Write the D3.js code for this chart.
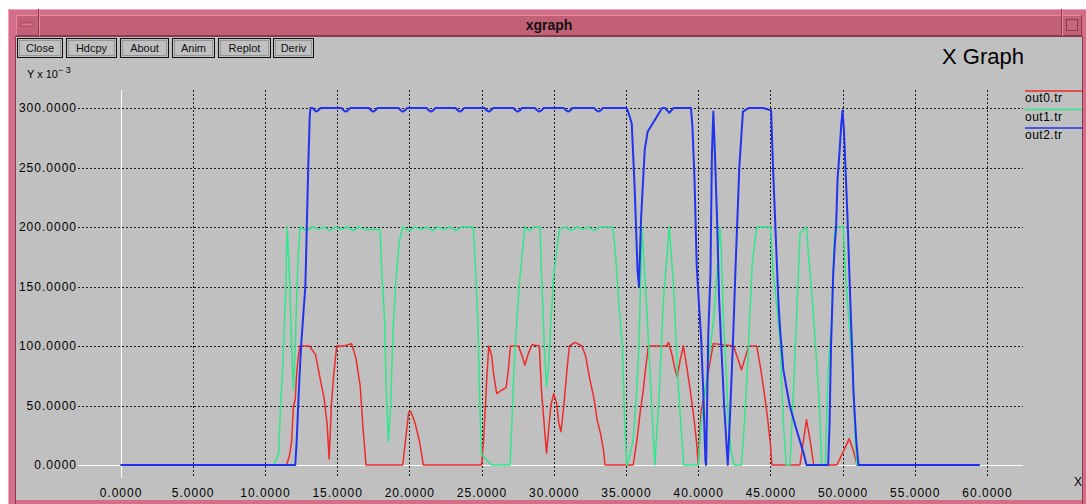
<!DOCTYPE html>
<html>
<head>
<meta charset="utf-8">
<script src="https://cdn.jsdelivr.net/npm/d3@7"></script>
<style>
  body { margin: 0; background: #ffffff; }
  svg { display: block; }
  text { font-family: "Liberation Sans", Arial, sans-serif; }
</style>
</head>
<body>
<div id="chart"></div>
<script>
// series values, [time, value x 10^-3]
const out0 = [[0,0],[11.5,0],[11.7,8],[11.85,20],[11.97,49],[12.1,55],[12.2,77],[12.3,90],[12.43,100],[13.07,100],
  [13.5,93],[13.8,74],[14.1,56],[14.3,35],[14.45,5],[14.6,50],[14.75,74],[14.97,100],[15.5,100],[16.0,102],
  [16.3,90],[16.6,66],[16.8,30],[17.0,0],[19.54,0],[19.7,17],[19.95,44],[20.1,45],[20.4,35],[20.7,20],[20.97,0],
  [25.0,0],[25.15,22],[25.35,70],[25.5,100],[25.7,92],[25.85,75],[26.05,60],[26.4,63],[26.7,65],[26.85,79],
  [27.0,100],[27.55,100],[27.8,92],[28.0,84],[28.25,94],[28.5,101],[29.0,100],[29.15,62],[29.3,40],[29.5,10],
  [29.65,30],[29.8,50],[30.0,60],[30.2,52],[30.35,35],[30.5,28],[30.7,50],[30.9,78],[31.08,100],[31.47,103],
  [31.94,100],[32.2,92],[32.5,72],[32.8,55],[33.0,38],[33.25,26],[33.45,12],[33.55,0],[35.5,0],[35.75,20],
  [36.0,46],[36.2,63],[36.35,80],[36.55,100],[37.8,100],[37.95,103],[38.2,92],[38.4,80],[38.56,74],[38.75,88],
  [38.98,100],[39.2,83],[39.45,63],[39.7,40],[39.9,18],[40.0,0],[40.2,45],[40.5,63],[40.7,78],[41.05,102],
  [42.45,100],[42.7,91],[43.0,80],[43.25,90],[43.5,100],[44.05,100],[44.3,83],[44.55,63],[44.8,40],[45.0,18],
  [45.1,0],[47.05,0],[47.3,21],[47.5,38],[47.75,21],[48.0,0],[49.6,0],[50.0,10],[50.45,22],[50.75,12],[51.0,0],[59.5,0]];

const out1 = [[0,0],[10.6,0],[10.95,10],[11.1,54],[11.25,85],[11.35,119],[11.45,150],[11.5,180],[11.55,200],
  [11.7,158],[11.85,100],[11.97,63],[12.1,100],[12.2,140],[12.3,175],[12.43,200],[12.9,197],[13.3,200],[13.7,198],
  [14.1,200],[14.5,197],[14.9,200],[15.3,198],[15.7,200],[16.1,197],[16.5,200],[16.9,198],[17.97,198],[18.1,160],
  [18.3,119],[18.4,63],[18.55,20],[18.7,50],[18.9,119],[19.1,160],[19.3,187],[19.54,200],[20.0,197],[20.4,200],
  [20.8,198],[21.2,200],[21.6,197],[22.0,200],[22.4,198],[22.8,200],[23.2,197],[23.6,200],[24.43,200],[24.6,160],
  [24.75,119],[24.85,63],[25.0,9],[25.3,5],[25.7,0],[26.97,0],[27.1,35],[27.25,82],[27.45,122],[27.6,150],
  [27.8,175],[28.0,200],[28.3,197],[28.6,200],[29.05,200],[29.15,160],[29.35,100],[29.5,66],[29.65,85],[29.8,119],
  [30.0,160],[30.2,180],[30.4,198],[30.8,200],[31.2,197],[31.6,200],[32.0,198],[32.4,200],[32.8,197],[33.2,200],
  [34.1,200],[34.3,173],[34.5,137],[34.75,100],[34.9,40],[35.05,0],[35.2,5],[35.5,21],[35.75,63],[35.9,100],
  [36.0,147],[36.1,200],[36.4,140],[36.7,70],[37.0,0],[37.3,60],[37.6,140],[38.0,200],[38.3,150],[38.6,70],
  [39.0,0],[40.0,0],[40.2,35],[40.5,63],[40.75,90],[41.05,120],[41.3,160],[41.5,200],[41.6,180],[41.75,120],
  [41.9,90],[42.1,35],[42.3,10],[42.5,0],[43.0,0],[43.2,35],[43.4,78],[43.6,133],[43.75,170],[44.05,200],
  [45.0,200],[45.2,160],[45.45,133],[45.67,105],[45.8,63],[45.9,35],[46.1,0],[46.36,0],[46.6,63],[46.8,120],
  [47.05,195],[47.5,200],[47.65,175],[47.9,140],[48.1,105],[48.4,50],[48.55,0],[48.8,0],[49.0,80],[49.25,122],
  [49.35,164],[49.45,195],[49.55,200],[50.05,200],[50.2,160],[50.45,120],[50.7,80],[50.85,30],[50.98,0],[59.5,0]];

const out2 = [[0,0],[12.1,0],[12.2,20],[12.3,49],[12.4,75],[12.5,99],[12.65,125],[12.8,150],[12.9,200],
  [13.0,250],[13.1,292],[13.15,300],[13.3,300],[13.45,298],[13.56,297],[13.7,298],[13.85,300],
  [15.3,300],[15.45,298],[15.6,297],[15.75,298],[15.9,300],[17.2,300],[17.35,298],[17.5,297],[17.65,298],
  [17.8,300],[19.25,300],[19.4,298],[19.55,297],[19.7,298],[19.85,300],[21.2,300],[21.35,298],[21.5,297],
  [21.65,298],[21.8,300],[23.2,300],[23.35,298],[23.5,297],[23.65,298],[23.8,300],[25.2,300],[25.35,298],
  [25.5,297],[25.65,298],[25.8,300],[27.2,300],[27.35,298],[27.5,297],[27.65,298],[27.8,300],[28.7,300],
  [28.85,298],[29.0,297],[29.15,298],[29.3,300],[30.7,300],[30.85,298],[31.0,297],[31.15,298],[31.3,300],
  [32.8,300],[32.95,298],[33.1,297],[33.25,298],[33.4,300],
  [35.05,300],[35.2,295],[35.4,287],[35.6,234],[35.8,164],[35.9,150],[36.05,208],[36.3,265],[36.5,280],
  [37.0,290],[37.5,300],[37.7,300],[37.85,298],[38.0,296],[38.15,298],[38.3,300],[39.5,300],[39.6,285],[39.75,239],[39.9,167],
  [40.05,136],[40.2,108],[40.35,63],[40.5,4],[40.55,0],[40.7,110],[40.85,160],[40.95,260],[41.05,297],
  [41.15,265],[41.3,210],[41.45,140],[41.6,100],[41.8,50],[42.05,0],[42.2,40],[42.4,100],[42.6,170],
  [42.85,250],[43.1,297],[43.5,300],[44.5,300],[45.05,298],[45.2,245],[45.45,169],[45.55,139],[45.67,114],
  [45.9,80],[46.1,66],[46.36,49],[46.8,30],[47.3,10],[47.5,0],[49.0,0],[49.1,35],[49.2,100],[49.35,160],
  [49.45,183],[49.55,200],[49.65,240],[49.8,265],[49.9,285],[50.0,298],[50.1,280],[50.25,235],[50.35,205],
  [50.5,150],[50.65,100],[50.75,63],[50.85,40],[50.95,20],[51.1,0],[59.5,0]];

const seriesNames = ["out0.tr", "out1.tr", "out2.tr"];
const seriesColors = ["#ee2a2a", "#2ee88a", "#2233ee"];
const xTicks = [0, 5, 10, 15, 20, 25, 30, 35, 40, 45, 50, 55, 60];
const yTicks = [0, 50, 100, 150, 200, 250, 300];
const buttons = ["Close", "Hdcpy", "About", "Anim", "Replot", "Deriv"];

const W = 1086, H = 504;
const svg = d3.select("#chart").append("svg")
  .attr("width", W).attr("height", H);

// window frame
svg.append("rect").attr("x", 8).attr("y", 9).attr("width", W).attr("height", H)
  .attr("fill", "#d46e88");
svg.append("path").attr("d", "M8.5,504V9.5H1086").attr("fill", "none").attr("stroke", "#f2a2b6");
svg.append("path").attr("d", "M15.5,504V36.5H1082.5V504").attr("fill", "none").attr("stroke", "#8a3a4c");
svg.append("rect").attr("x", 16).attr("y", 15).attr("width", 1066).attr("height", 21)
  .attr("fill", "#c26078");
svg.append("path").attr("d", "M16,15.5H1082M16.5,15V36").attr("stroke", "#e88aa0").attr("fill", "none");
svg.append("path").attr("d", "M16,35.5H1082M1081.5,15V36").attr("stroke", "#8a3a4c").attr("fill", "none");
svg.append("path").attr("d", "M38.5,9V36M1061.5,9V36").attr("stroke", "#8a3a4c").attr("fill", "none");
svg.append("path").attr("d", "M39.5,9V36M1062.5,9V36").attr("stroke", "#e88aa0").attr("fill", "none");
svg.append("rect").attr("x", 21).attr("y", 23).attr("width", 12).attr("height", 3)
  .attr("fill", "#d87890").attr("stroke", "#8a3a4c").attr("stroke-width", 0.6);
svg.append("rect").attr("x", 1066.5).attr("y", 19.5).attr("width", 11).attr("height", 11)
  .attr("fill", "#c8667e").attr("stroke", "#8a3a4c");
svg.append("text").attr("x", 549).attr("y", 30).attr("text-anchor", "middle")
  .style("font-family", "'Liberation Sans Narrow', 'Liberation Sans', sans-serif")
  .style("font-weight", "bold").style("font-size", "14px").attr("fill", "#111")
  .text("xgraph");

// content area
svg.append("rect").attr("x", 16).attr("y", 37).attr("width", 1066).attr("height", 463)
  .attr("fill", "#c0c0c0");

// buttons
const btnX = [17, 66, 120, 172, 218, 273];
const btnW = [45, 50, 48, 42, 52, 40];
const btn = svg.selectAll(".btn").data(buttons).enter().append("g").attr("class", "btn");
btn.append("rect")
  .attr("x", (d, i) => btnX[i] + 0.5).attr("y", 38.5)
  .attr("width", (d, i) => btnW[i]).attr("height", 19)
  .attr("fill", "#c0c0c0").attr("stroke", "#111");
btn.append("rect")
  .attr("x", (d, i) => btnX[i] + 2.5).attr("y", 40.5)
  .attr("width", (d, i) => btnW[i] - 4).attr("height", 15)
  .attr("fill", "none").attr("stroke", "#7a7a7a").attr("stroke-width", 0.6);
btn.append("text")
  .attr("x", (d, i) => btnX[i] + btnW[i] / 2 + 0.5).attr("y", 52)
  .attr("text-anchor", "middle")
  .style("font-family", "'Liberation Sans Narrow', 'Liberation Sans', sans-serif")
  .style("font-size", "11px").attr("fill", "#111")
  .text(d => d);

svg.append("text").attr("x", 942).attr("y", 64)
  .style("font-size", "22px").attr("fill", "#000").text("X Graph");

const yl = svg.append("text").attr("x", 27).attr("y", 78)
  .style("font-size", "11px").attr("fill", "#000");
yl.append("tspan").text("Y x 10");
yl.append("tspan").attr("dy", -5).style("font-size", "9px").text("\u2212 3");

svg.append("text").attr("x", 1074).attr("y", 486)
  .style("font-size", "12px").attr("fill", "#000").text("X");

// scales
const x = d3.scaleLinear().domain([0, 60]).range([120.5, 987]);
const y = d3.scaleLinear().domain([0, 300]).range([465, 108]);
const fmt = d3.format(".4f");

const grid = svg.append("g");
grid.selectAll(".vg").data(xTicks.filter(d => d > 0)).enter().append("line")
  .attr("x1", d => Math.round(x(d)) + 0.5).attr("x2", d => Math.round(x(d)) + 0.5)
  .attr("y1", 90).attr("y2", 478)
  .attr("stroke", "#1a1a1a").attr("stroke-dasharray", "2,2");
grid.selectAll(".hg").data(yTicks.filter(d => d > 0)).enter().append("line")
  .attr("x1", 78).attr("x2", 1023)
  .attr("y1", d => Math.round(y(d)) + 0.5).attr("y2", d => Math.round(y(d)) + 0.5)
  .attr("stroke", "#1a1a1a").attr("stroke-dasharray", "2,2");
grid.append("line").attr("x1", 78).attr("x2", 1023)
  .attr("y1", Math.round(y(0)) + 0.5).attr("y2", Math.round(y(0)) + 0.5)
  .attr("stroke", "#ffffff");
grid.append("line").attr("x1", Math.round(x(0)) + 0.5).attr("x2", Math.round(x(0)) + 0.5)
  .attr("y1", 90).attr("y2", 478).attr("stroke", "#ffffff");

svg.selectAll(".xl").data(xTicks).enter().append("text")
  .attr("x", d => x(d) + 0.5).attr("y", 497).attr("text-anchor", "middle")
  .style("font-size", "12px").style("letter-spacing", "1px").attr("fill", "#000")
  .text(d => fmt(d));
svg.selectAll(".yl").data(yTicks).enter().append("text")
  .attr("x", 77).attr("y", d => y(d) + 4).attr("text-anchor", "end")
  .style("font-size", "12px").style("letter-spacing", "1px").attr("fill", "#000")
  .text(d => fmt(d));

// lines
const line = d3.line().x(d => x(d[0])).y(d => y(d[1]));
const allSeries = [out0, out1, out2];
svg.selectAll(".series").data(allSeries).enter().append("path")
  .attr("d", line)
  .attr("fill", "none")
  .attr("stroke", (d, i) => seriesColors[i])
  .attr("stroke-width", (d, i) => i === 2 ? 2 : 1.5)
  .attr("stroke-linejoin", "round");

// legend
const leg = svg.selectAll(".leg").data(seriesNames).enter().append("g");
leg.append("line")
  .attr("x1", 1025).attr("x2", 1082)
  .attr("y1", (d, i) => 91 + i * 18.5).attr("y2", (d, i) => 91 + i * 18.5)
  .attr("stroke", (d, i) => seriesColors[i]).attr("stroke-width", 1.5);
leg.append("text")
  .attr("x", 1025).attr("y", (d, i) => 102 + i * 18.5)
  .style("font-size", "12px").style("letter-spacing", "0.5px").attr("fill", "#000")
  .text(d => d);
</script>
</body>
</html>
